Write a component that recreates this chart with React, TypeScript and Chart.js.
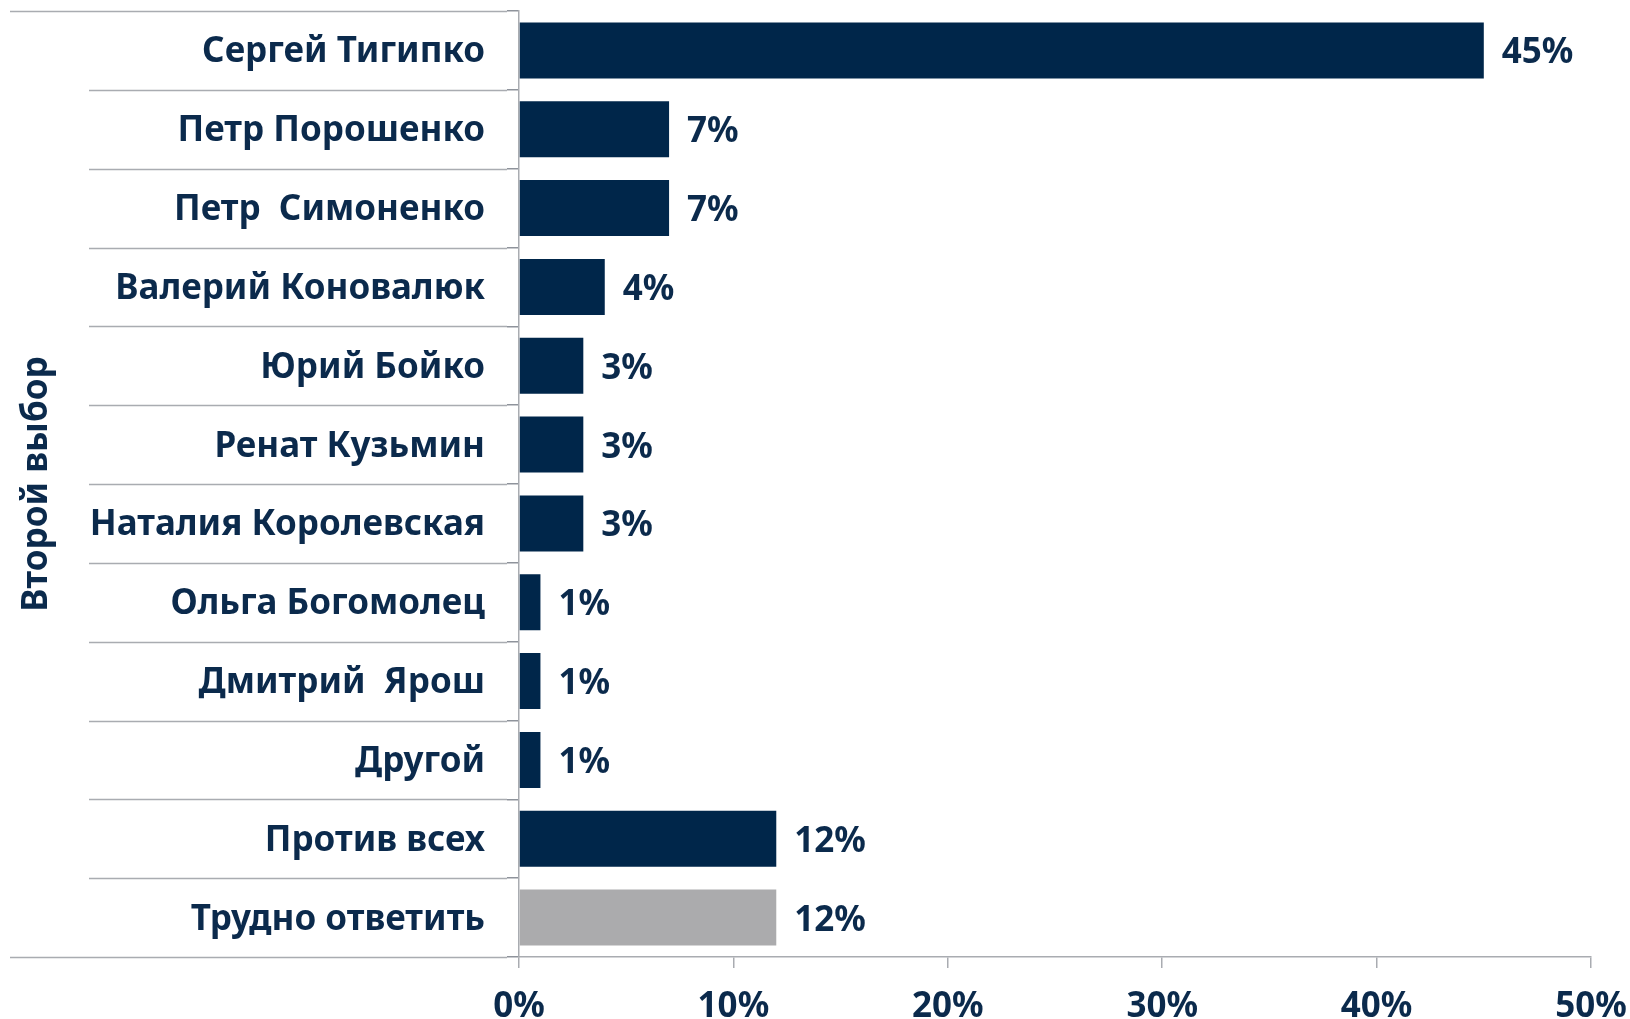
import React, { useEffect, useRef } from "react";
import { Chart, registerables } from "chart.js";

Chart.register(...registerables);

const categories = [
  "Сергей Тигипко",
  "Петр Порошенко",
  "Петр  Симоненко",
  "Валерий Коновалюк",
  "Юрий Бойко",
  "Ренат Кузьмин",
  "Наталия Королевская",
  "Ольга Богомолец",
  "Дмитрий  Ярош",
  "Другой",
  "Против всех",
  "Трудно ответить",
];
const values = [45, 7, 7, 4, 3, 3, 3, 1, 1, 1, 12, 12];
const barColors = [
  "#00264A", "#00264A", "#00264A", "#00264A", "#00264A", "#00264A",
  "#00264A", "#00264A", "#00264A", "#00264A", "#00264A", "#ABABAD",
];
const xTicks = [0, 10, 20, 30, 40, 50];
const axisTitle = "Второй выбор";

const TEXT = "#0B2A4C";
const LINE = "#A9ACB1";
const FONT = "'Noto Sans', sans-serif";

const separatorPlugin = {
  id: "separators",
  afterDraw(chart: any) {
    const y = chart.scales.y;
    const ctx = chart.ctx;
    const n = categories.length;
    const h = y.getPixelForValue(1) - y.getPixelForValue(0);
    const right = chart.chartArea.left;
    ctx.save();
    ctx.strokeStyle = LINE;
    ctx.lineWidth = 1.5;
    for (let i = 0; i <= n; i++) {
      const py = Math.round(y.getPixelForValue(i) - h / 2) + 0.5;
      const x0 = i === 0 || i === n ? 10 : 89;
      ctx.beginPath();
      ctx.moveTo(x0, py);
      ctx.lineTo(right - 12, py);
      ctx.stroke();
    }
    ctx.restore();
  },
};

const labelPlugin = {
  id: "barLabels",
  afterDatasetsDraw(chart: any) {
    const ctx = chart.ctx;
    const meta = chart.getDatasetMeta(0);
    ctx.save();
    ctx.font = `bold 35px ${FONT}`;
    ctx.fillStyle = TEXT;
    ctx.textAlign = "left";
    ctx.textBaseline = "middle";
    meta.data.forEach((bar: any, i: number) => {
      ctx.fillText(values[i] + "%", bar.x + 18, bar.y + 3);
    });
    ctx.restore();
  },
};

export default function App() {
  const ref = useRef<HTMLCanvasElement>(null);
  useEffect(() => {
    if (!ref.current) return;
    const chart = new Chart(ref.current, {
      type: "bar",
      data: {
        labels: categories,
        datasets: [
          {
            data: values,
            backgroundColor: barColors,
            barPercentage: 0.71,
            categoryPercentage: 1,
          },
        ],
      },
      options: {
        indexAxis: "y",
        animation: false,
        responsive: false,
        maintainAspectRatio: false,
        layout: { padding: { left: 0, right: 39, top: 11, bottom: 0 } },
        plugins: {
          legend: { display: false },
          tooltip: { enabled: false },
        },
        scales: {
          x: {
            min: 0,
            max: 50,
            afterFit: (s: any) => {
              s.height = 62;
              s.paddingLeft = 0;
              s.paddingRight = 0;
            },
            afterBuildTicks: (s: any) => {
              s.ticks = xTicks.map((v) => ({ value: v }));
            },
            ticks: {
              callback: (v: any) => v + "%",
              color: TEXT,
              font: { family: FONT, size: 35, weight: "bold" },
              padding: 18,
              maxRotation: 0,
            },
            grid: {
              drawOnChartArea: false,
              drawTicks: true,
              tickLength: 11,
              color: LINE,
              lineWidth: 1.5,
            },
            border: { display: true, color: LINE, width: 1.5 },
          },
          y: {
            afterFit: (s: any) => {
              s.width = 519;
              s.paddingTop = 0;
              s.paddingBottom = 0;
            },
            ticks: {
              color: TEXT,
              font: { family: FONT, size: 35, weight: "bold" },
              padding: 22,
              labelOffset: 2,
              autoSkip: false,
            },
            grid: {
              offset: true,
              drawOnChartArea: false,
              drawTicks: true,
              tickLength: 12,
              color: "#8E939B",
              lineWidth: 1.5,
            },
            border: { display: true, color: LINE, width: 1.5 },
            title: {
              display: true,
              text: axisTitle,
              color: TEXT,
              font: { family: FONT, size: 35, weight: "bold" },
              padding: { top: 16, bottom: 0 },
            },
          },
        },
      },
      plugins: [separatorPlugin, labelPlugin],
    } as any);
    return () => chart.destroy();
  }, []);
  return (
    <div style={{ position: "fixed", left: 0, top: 0, width: 1630, height: 1019, background: "#fff" }}>
      <canvas ref={ref} width={1630} height={1019} style={{ display: "block" }} />
    </div>
  );
}
